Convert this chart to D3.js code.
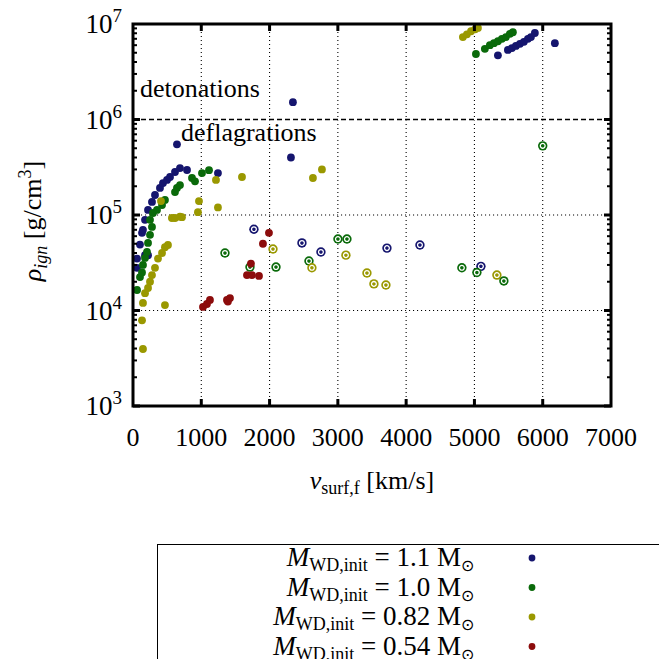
<!DOCTYPE html>
<html>
<head>
<meta charset="utf-8">
<script src="https://cdn.jsdelivr.net/npm/d3@7"></script>
<style>
  body { margin: 0; background: #fff; }
  text { font-family: "Liberation Serif", "Times New Roman", serif; fill: #000; }
</style>
</head>
<body>
<div id="chart"></div>
<script>
var svgWidth = 659;
var svgHeight = 659;

var margin = { top: 24, right: 48, bottom: 253, left: 133 };
var width = svgWidth - margin.left - margin.right;
var height = svgHeight - margin.top - margin.bottom;

var xTicks = [0, 1000, 2000, 3000, 4000, 5000, 6000, 7000];
var yExponents = [3, 4, 5, 6, 7];
var boundaryRho = 1e6;

// [v_surf,f (km/s), rho_ign (g/cm^3)]
var m11Dots = [
  [59, 2.8e4], [59, 3.5e4], [102, 4.9e4], [132, 6.5e4], [146, 7.0e4],
  [176, 3.8e4], [220, 3.8e4], [176, 8.9e4], [220, 1.13e5], [278, 1.37e5],
  [322, 1.62e5], [395, 1.92e5], [439, 2.16e5], [498, 2.33e5], [542, 2.5e5],
  [615, 2.82e5], [688, 3.1e5], [791, 2.96e5], [1244, 2.75e5], [644, 5.5e5],
  [2313, 4.0e5], [2342, 1.52e6],
  [5344, 4.7e6], [5490, 5.35e6], [5549, 5.6e6], [5607, 5.9e6], [5666, 6.2e6],
  [5724, 6.5e6], [5783, 7.0e6], [5827, 7.3e6], [5885, 8.05e6], [6178, 6.3e6]
];
var m11Rings = [
  [1771, 7.1e4], [2474, 5.1e4], [2752, 4.1e4], [3719, 4.5e4], [4202, 4.85e4],
  [5095, 2.9e4]
];

var m10Dots = [
  [59, 1.64e4], [102, 2.24e4], [132, 2.5e4], [146, 3.0e4], [176, 3.55e4],
  [205, 4.1e4], [220, 5.1e4], [249, 6.2e4], [278, 7.5e4], [249, 8.9e4],
  [293, 1.05e5], [351, 1.13e5], [425, 1.27e5], [468, 1.44e5], [615, 1.74e5],
  [644, 1.92e5], [688, 2.06e5], [864, 2.44e5], [908, 2.25e5], [1010, 2.75e5],
  [1113, 2.95e5],
  [5022, 4.85e6], [5153, 5.5e6], [5226, 6.0e6], [5285, 6.3e6], [5344, 6.6e6],
  [5402, 7.0e6], [5461, 7.3e6], [5519, 7.9e6], [5563, 8.2e6]
];
var m10Rings = [
  [1347, 4.0e4], [1713, 2.85e4], [2094, 2.85e4], [2577, 3.3e4], [3001, 5.6e4],
  [3133, 5.6e4], [4816, 2.8e4], [5036, 2.5e4], [5431, 2.04e4], [6000, 5.3e5]
];

var m082Dots = [
  [146, 3.95e3], [132, 7.9e3], [146, 1.2e4], [468, 1.14e4], [176, 1.52e4],
  [220, 1.72e4], [249, 2.0e4], [278, 2.35e4], [322, 2.8e4], [366, 3.5e4],
  [425, 4.0e4], [468, 4.6e4], [512, 4.85e4], [570, 9.3e4], [615, 9.3e4],
  [688, 9.6e4], [717, 9.5e4], [410, 1.4e5], [951, 1.07e5], [966, 1.4e5],
  [1244, 1.2e5], [1215, 2.33e5], [1596, 2.5e5], [2635, 2.44e5], [2767, 3.0e5],
  [4831, 7.3e6], [4890, 7.8e6], [4950, 8.4e6], [5010, 8.8e6], [5051, 9.1e6]
];
var m082Rings = [
  [2050, 4.4e4], [2620, 2.8e4], [3118, 3.8e4], [3426, 2.47e4], [3528, 1.9e4],
  [3704, 1.85e4], [5329, 2.35e4]
];

var m054Dots = [
  [1025, 1.09e4], [1083, 1.17e4], [1127, 1.29e4], [1376, 1.29e4], [1390, 1.24e4],
  [1420, 1.35e4], [1669, 2.35e4], [1742, 2.35e4], [1845, 2.3e4], [1727, 3.1e4],
  [1903, 5.0e4], [1991, 6.5e4]
];
var m054Rings = [];

var massLabels = ["1.1", "1.0", "0.82", "0.54"];
var colors = ["#15156e", "#0a6a0a", "#9a9800", "#8c0c0c"];
var seriesDots = [m11Dots, m10Dots, m082Dots, m054Dots];
var seriesRings = [m11Rings, m10Rings, m082Rings, m054Rings];

var svg = d3.select("#chart")
  .append("svg")
  .attr("width", svgWidth)
  .attr("height", svgHeight);

var chartGroup = svg.append("g")
  .attr("transform", `translate(${margin.left}, ${margin.top})`);

var xScale = d3.scaleLinear().domain([0, 7000]).range([0, width]);
var yScale = d3.scaleLog().domain([1e3, 1e7]).range([height, 0]);

// dotted grid at the inner major ticks
chartGroup.append("g").selectAll("line")
  .data(xTicks.slice(1, -1))
  .enter().append("line")
  .attr("x1", d => xScale(d)).attr("x2", d => xScale(d))
  .attr("y1", 0).attr("y2", height)
  .attr("stroke", "#000").attr("stroke-width", 1.1)
  .attr("stroke-dasharray", "1.1,2.9");

chartGroup.append("g").selectAll("line")
  .data(yExponents.slice(1, -1))
  .enter().append("line")
  .attr("x1", 0).attr("x2", width)
  .attr("y1", d => yScale(Math.pow(10, d))).attr("y2", d => yScale(Math.pow(10, d)))
  .attr("stroke", "#000").attr("stroke-width", 1.1)
  .attr("stroke-dasharray", "1.1,2.9");

// detonation / deflagration boundary
chartGroup.append("line")
  .attr("x1", 0).attr("x2", width)
  .attr("y1", yScale(boundaryRho)).attr("y2", yScale(boundaryRho))
  .attr("stroke", "#fff").attr("stroke-width", 2);
chartGroup.append("line")
  .attr("x1", 0).attr("x2", width)
  .attr("y1", yScale(boundaryRho)).attr("y2", yScale(boundaryRho))
  .attr("stroke", "#000").attr("stroke-width", 1.3)
  .attr("stroke-dasharray", "5,3");

chartGroup.append("text")
  .attr("x", 7).attr("y", yScale(boundaryRho) - 23)
  .attr("font-size", 26)
  .text("detonations");
chartGroup.append("text")
  .attr("x", 48).attr("y", yScale(boundaryRho) + 21)
  .attr("font-size", 26)
  .text("deflagrations");

// points
var pointsGroup = chartGroup.append("g");
seriesDots.forEach(function(dots, i) {
  pointsGroup.append("g").selectAll("circle")
    .data(dots)
    .enter().append("circle")
    .attr("cx", d => xScale(d[0]))
    .attr("cy", d => yScale(d[1]))
    .attr("r", 3.9)
    .attr("fill", colors[i]);

  var rings = pointsGroup.append("g").selectAll("g")
    .data(seriesRings[i])
    .enter().append("g")
    .attr("transform", d => `translate(${xScale(d[0])}, ${yScale(d[1])})`);
  rings.append("circle").attr("r", 4.7).attr("fill", colors[i]);
  rings.append("circle").attr("r", 2.4).attr("fill", "none")
    .attr("stroke", "#fff").attr("stroke-width", 1.3);
});

// ticks, mirrored on all four sides and pointing inwards
var tickGroup = chartGroup.append("g").attr("stroke", "#000");
xTicks.slice(1, -1).forEach(function(t) {
  tickGroup.append("line")
    .attr("x1", xScale(t)).attr("x2", xScale(t))
    .attr("y1", height).attr("y2", height - 7).attr("stroke-width", 3);
  tickGroup.append("line")
    .attr("x1", xScale(t)).attr("x2", xScale(t))
    .attr("y1", 0).attr("y2", 7).attr("stroke-width", 3);
});
yExponents.slice(0, -1).forEach(function(e) {
  for (var m = 1; m < 10; m++) {
    var y = yScale(m * Math.pow(10, e));
    var len = m === 1 ? 7 : 4;
    var sw = m === 1 ? 3 : 2;
    tickGroup.append("line").attr("x1", 0).attr("x2", len)
      .attr("y1", y).attr("y2", y).attr("stroke-width", sw);
    tickGroup.append("line").attr("x1", width).attr("x2", width - len)
      .attr("y1", y).attr("y2", y).attr("stroke-width", sw);
  }
});

// frame
chartGroup.append("rect")
  .attr("x", 0).attr("y", 0)
  .attr("width", width).attr("height", height)
  .attr("fill", "none")
  .attr("stroke", "#000")
  .attr("stroke-width", 3);

// tick labels
chartGroup.append("g").selectAll("text")
  .data(xTicks)
  .enter().append("text")
  .attr("x", d => xScale(d))
  .attr("y", height + 40)
  .attr("text-anchor", "middle")
  .attr("font-size", 26)
  .text(d => d);

var yLabels = chartGroup.append("g").selectAll("text")
  .data(yExponents)
  .enter().append("text")
  .attr("x", -11)
  .attr("y", d => yScale(Math.pow(10, d)) + 9)
  .attr("text-anchor", "end")
  .attr("font-size", 27);
yLabels.append("tspan").text("10");
yLabels.append("tspan").attr("dy", -11).attr("font-size", 19).text(d => d);

// axis titles
var xTitle = chartGroup.append("text")
  .attr("x", width / 2)
  .attr("y", height + 83)
  .attr("text-anchor", "middle")
  .attr("font-size", 26);
xTitle.append("tspan").attr("font-style", "italic").text("v");
xTitle.append("tspan").attr("font-size", 18).attr("dy", 5).text("surf,f");
xTitle.append("tspan").attr("dy", -5).text(" [km/s]");

var yTitle = chartGroup.append("text")
  .attr("transform", `translate(${-92}, ${height / 2 + 6}) rotate(-90)`)
  .attr("text-anchor", "middle")
  .attr("font-size", 26);
yTitle.append("tspan").attr("font-style", "italic").text("\u03c1");
yTitle.append("tspan").attr("font-style", "italic").attr("font-size", 18).attr("dy", 6).text("ign");
yTitle.append("tspan").attr("dy", -6).text(" [g/cm");
yTitle.append("tspan").attr("font-size", 18).attr("dy", -10).text("3");
yTitle.append("tspan").attr("dy", 10).text("]");

// legend
var legend = svg.append("g");
legend.append("rect")
  .attr("x", 157.5).attr("y", 544.5)
  .attr("width", 560).attr("height", 200)
  .attr("fill", "#fff")
  .attr("stroke", "#000")
  .attr("stroke-width", 1);

var rows = legend.selectAll("g.row")
  .data(massLabels)
  .enter().append("g")
  .attr("class", "row")
  .attr("transform", (d, i) => `translate(0, ${558 + i * 29.5})`);

var rowText = rows.append("text")
  .attr("x", 474)
  .attr("y", 8)
  .attr("text-anchor", "end")
  .attr("font-size", 27);
rowText.append("tspan").attr("font-style", "italic").text("M");
rowText.append("tspan").attr("font-size", 18).attr("dy", 5).text("WD,init");
rowText.append("tspan").attr("dy", -5).text(d => ` = ${d} M`);
rowText.append("tspan").attr("font-size", 16).attr("dy", 5).text("\u2299");

rows.append("circle")
  .attr("cx", 532).attr("cy", 0)
  .attr("r", 3.4)
  .attr("fill", (d, i) => colors[i]);
</script>
</body>
</html>
